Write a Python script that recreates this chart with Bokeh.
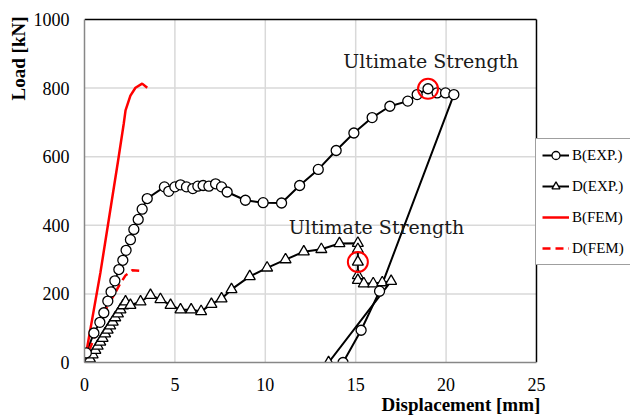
from bokeh.plotting import figure
from bokeh.models import Range1d, Legend, LegendItem, Title, Label, FixedTicker
from bokeh.embed import file_html
from bokeh.resources import INLINE

# ---- data ----
x_ticks = [0, 5, 10, 15, 20, 25]
y_ticks = [0, 200, 400, 600, 800, 1000]

b_exp_x = [0.1, 0.52, 0.85, 1.07, 1.29, 1.47, 1.68, 1.9, 2.12, 2.3, 2.54, 2.73, 2.97, 3.19, 3.47,
           4.42, 4.66, 5.0, 5.31, 5.64, 5.99, 6.27, 6.56, 6.88, 7.25, 7.58, 7.89, 8.9, 9.88,
           10.9, 11.9, 12.93, 13.92, 14.9, 15.91, 16.89, 17.88, 18.4, 19.0, 19.5, 19.97, 20.43,
           16.32, 15.3, 14.3]
b_exp_y = [28, 86, 117, 145, 179, 206, 238, 271, 298, 327, 358, 388, 417, 447, 478,
           512, 499, 512, 518, 512, 507, 514, 516, 514, 521, 512, 497, 473, 466,
           465, 516, 563, 618, 669, 714, 747, 762, 781, 798, 786, 786, 781,
           208, 94, 0]

d_exp_x = [0.15, 0.3, 0.45, 0.6, 0.73, 0.87, 1.0, 1.14, 1.28, 1.42, 1.56, 1.7, 1.85, 1.99, 2.13, 2.27,
           2.54, 3.1, 3.65, 4.2, 4.76, 5.31, 5.9, 6.45, 7.02, 7.58, 8.13, 9.14, 10.1,
           11.12, 12.13, 13.1, 14.1, 15.12, 15.12, 15.12, 15.12, 15.12, 15.45, 15.97, 16.47, 16.96,
           13.5]
d_exp_y = [0, 11, 23, 36, 48, 60, 71, 84, 95, 107, 118, 131, 142, 154, 166, 177,
           167, 177, 196, 184, 167, 154, 154, 149, 170, 186, 213, 251, 276,
           300, 323, 330, 347, 348, 330, 293, 254, 240, 230, 230, 233, 237,
           0]

b_fem_x = [0, 0.88, 1.86, 2.17, 2.27, 2.54, 2.82, 3.19, 3.47]
b_fem_y = [0, 262, 589, 696, 735, 778, 801, 813, 801]

d_fem_x = [0, 0.7, 1.12, 1.62, 1.95, 2.27, 2.64, 3.19]
d_fem_y = [0, 94, 149, 196, 228, 254, 269, 267]

ult_x = [19.0, 15.12]
ult_y = [798, 293]

SERIF = "Liberation Serif"

# frame runs to the canvas edge so the legend (placed beyond x=25) is not clipped
p = figure(width=630, height=415, output_backend="svg", toolbar_location=None, title=None,
           x_range=Range1d(0, 30.2), y_range=Range1d(0, 1008.7),
           min_border_left=84, min_border_right=0, min_border_top=16, min_border_bottom=53)
p.background_fill_color = "white"
p.border_fill_color = "white"
p.outline_line_color = None
p.xgrid.visible = False
p.ygrid.visible = False

p.xaxis.ticker = FixedTicker(ticks=x_ticks)
p.yaxis.ticker = FixedTicker(ticks=y_ticks)
p.xaxis.bounds = (x_ticks[0], x_ticks[-1])
p.yaxis.bounds = (y_ticks[0], y_ticks[-1])
for ax in (p.xaxis[0], p.yaxis[0]):
    ax.axis_line_color = "#878787"
    ax.axis_line_width = 1.5
    ax.major_tick_line_color = None
    ax.minor_tick_line_color = None
    ax.major_tick_out = 0
    ax.major_tick_in = 0
    ax.major_label_text_font = SERIF
    ax.major_label_text_font_size = "18px"
    ax.major_label_text_color = "black"
p.xaxis.major_label_standoff = 15
p.yaxis.major_label_standoff = 15

# gridlines and the black top/right border, limited to the 0-25 / 0-1000 box
nx = len(x_ticks) - 2
ny = len(y_ticks) - 2
p.segment(x0=x_ticks[1:-1], y0=[y_ticks[0]] * nx, x1=x_ticks[1:-1], y1=[y_ticks[-1]] * nx,
          line_color="#d9d9d9", line_width=1.5)
p.segment(x0=[x_ticks[0]] * ny, y0=y_ticks[1:-1], x1=[x_ticks[-1]] * ny, y1=y_ticks[1:-1],
          line_color="#d9d9d9", line_width=1.5)
p.segment(x0=[x_ticks[0], x_ticks[-1]], y0=[y_ticks[-1], y_ticks[0]],
          x1=[x_ticks[-1], x_ticks[-1]], y1=[y_ticks[-1], y_ticks[-1]],
          line_color="black", line_width=1.5)

# series
b_line = p.line(b_exp_x, b_exp_y, line_color="black", line_width=2)
d_line = p.line(d_exp_x, d_exp_y, line_color="black", line_width=2)
bf_line = p.line(b_fem_x, b_fem_y, line_color="red", line_width=2.5)
df_line = p.line(d_fem_x, d_fem_y, line_color="red", line_width=2.5, line_dash="8 5")
d_pts = p.scatter(d_exp_x, d_exp_y, marker="triangle", size=11, fill_color="white",
                  line_color="black", line_width=1.3)
b_pts = p.scatter(b_exp_x, b_exp_y, marker="circle", size=10, fill_color="white",
                  line_color="black", line_width=1.3)
p.scatter(ult_x, ult_y, marker="circle", size=20, fill_color=None, line_color="red", line_width=2)

for lx, ly in ((14.31, 880), (11.3, 395)):
    p.add_layout(Label(x=lx, y=ly, text="Ultimate Strength", text_font="DejaVu Serif",
                       text_font_size="19px", text_baseline="middle", text_align="left",
                       text_color="#1a1a1a"))

legend = Legend(items=[
    LegendItem(label="B(EXP.)", renderers=[b_line, b_pts]),
    LegendItem(label="D(EXP.)", renderers=[d_line, d_pts]),
    LegendItem(label="B(FEM)", renderers=[bf_line]),
    LegendItem(label="D(FEM)", renderers=[df_line]),
], location=(451, 97))
legend.margin = 0
legend.padding = 6
legend.spacing = 11
legend.label_height = 20
legend.glyph_height = 20
legend.glyph_width = 27
legend.label_standoff = 3
legend.label_text_font = SERIF
legend.label_text_font_size = "15px"
legend.label_text_color = "black"
legend.border_line_color = "#404040"
legend.border_line_width = 1
legend.background_fill_color = "white"
legend.background_fill_alpha = 1
p.add_layout(legend)

ty = Title(text="Load [kN]", align="right", text_font=SERIF, text_font_style="bold",
           text_font_size="19px", text_color="black", standoff=4)
p.add_layout(ty, "left")
tx = Title(text="Displacement [mm]", align="left", text_font=SERIF, text_font_style="bold",
           text_font_size="19px", text_color="black", standoff=-4, offset=297)
p.add_layout(tx, "below")

open("out.html", "w").write(file_html(p, INLINE))
